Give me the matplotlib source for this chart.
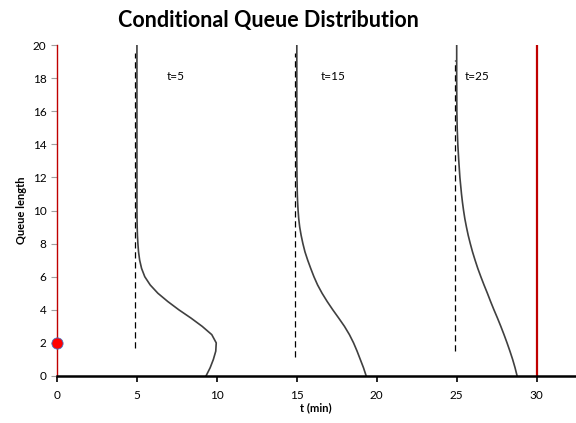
import matplotlib.pyplot as plt

# queue levels (y) and how far each curve bulges to the right of its start time
q_levels = [0, 0.5, 1, 1.5, 2, 2.5, 3, 3.5, 4, 4.5, 5, 5.5, 6, 6.5, 7, 7.5, 8, 8.5, 9, 9.5,
            10, 10.5, 11, 11.5, 12, 13, 14, 15, 16, 18, 20]
off_t5 = [4.32, 4.58, 4.78, 4.93, 4.96, 4.68, 4.08, 3.38, 2.62, 1.93, 1.31, 0.83, 0.49, 0.29, 0.17, 0.10,
          0.06, 0.03, 0.015, 0.005, 0.0, 0.0, 0.0, 0.0, 0.0, 0.0, 0.0, 0.0, 0.0, 0.0, 0.0]
off_t15 = [4.34, 4.17, 3.97, 3.77, 3.55, 3.29, 2.98, 2.62, 2.25, 1.90, 1.58, 1.30, 1.07, 0.87, 0.68, 0.51,
           0.38, 0.27, 0.18, 0.12, 0.08, 0.05, 0.03, 0.02, 0.01, 0.0, 0.0, 0.0, 0.0, 0.0, 0.0]
off_t25 = [3.78, 3.65, 3.50, 3.33, 3.15, 2.96, 2.76, 2.55, 2.33, 2.12, 1.92, 1.71, 1.51, 1.32, 1.15, 0.99,
           0.85, 0.72, 0.61, 0.51, 0.43, 0.36, 0.30, 0.25, 0.20, 0.13, 0.07, 0.03, 0.01, 0.0, 0.0]

start_times = [5, 15, 25]
offsets = [off_t5, off_t15, off_t25]
labels = ["t=5", "t=15", "t=25"]
label_x = [7.4, 17.3, 26.3]
dash_low = [1.7, 1.15, 1.5]
dash_high = [19.5, 19.5, 19.1]
horizon = 30
start_queue = 2

plt.rcParams['font.family'] = ['Lato', 'DejaVu Sans']

fig = plt.figure(figsize=(5.76, 4.23), dpi=100)
ax = fig.add_axes([57 / 576, 1 - 376 / 423, (575 - 57) / 576, (376 - 45) / 423])

for t0, off, lab, lx, lo, hi in zip(start_times, offsets, labels, label_x, dash_low, dash_high):
    ax.plot([t0 - 0.12, t0 - 0.12], [lo, hi], color='black', lw=0.9, ls=(0, (5, 3)))
    ax.plot([t0 + o for o in off], q_levels, color='#404040', lw=1.2)
    ax.text(lx, 18.1, lab, fontsize=8.5, ha='center', va='center')

ax.plot([horizon, horizon], [0, 20], color='#C00000', lw=1.6)
ax.scatter([0], [start_queue], s=65, color='red', edgecolor='#4472C4', linewidth=0.6, zorder=5, clip_on=False)

ax.set_xlim(0, 32.4)
ax.set_ylim(0, 20)
ax.set_xticks([0, 5, 10, 15, 20, 25, 30])
ax.set_yticks(range(0, 21, 2))
ax.tick_params(axis='x', length=4, width=1.2, color='black', labelsize=8.5, pad=6)
ax.tick_params(axis='y', length=4, width=0.8, color='#A0A0A0', labelsize=8.5)

ax.spines['top'].set_visible(False)
ax.spines['right'].set_visible(False)
ax.spines['left'].set_color('#C00000')
ax.spines['left'].set_linewidth(1.0)
ax.spines['bottom'].set_color('black')
ax.spines['bottom'].set_linewidth(1.8)

ax.set_xlabel('t (min)', fontsize=8, fontweight='bold', labelpad=1)
ax.set_ylabel('Queue length', fontsize=8, fontweight='bold', labelpad=4)
fig.text(268 / 576, 1 - 20 / 423, 'Conditional Queue Distribution', fontsize=15.5,
         fontweight='bold', ha='center', va='center')

fig.savefig('out.png', dpi=100)
